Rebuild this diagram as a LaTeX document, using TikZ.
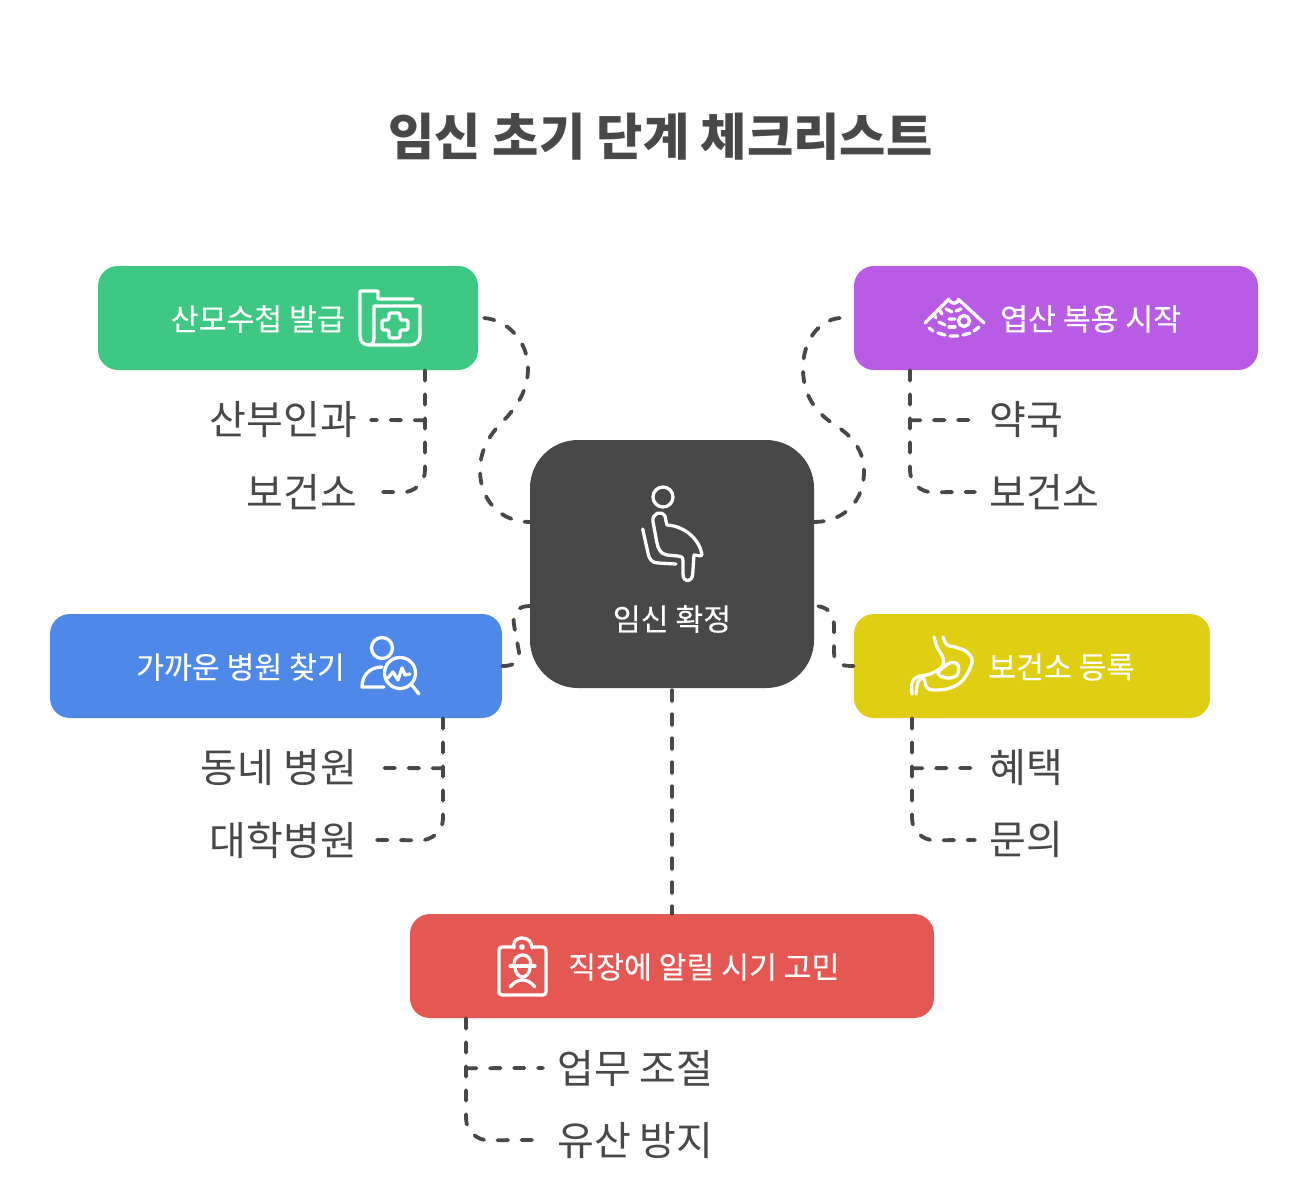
\documentclass[tikz,border=0pt]{standalone}
\usepackage{fontspec}
\setmainfont{Noto Sans CJK KR}
\newfontfamily\medfont[FakeBold=0.25]{Noto Sans CJK KR}
\definecolor{ink}{HTML}{484848}
\definecolor{cgreen}{HTML}{3EC882}
\definecolor{cpurple}{HTML}{B85CE6}
\definecolor{cblue}{HTML}{4E88E8}
\definecolor{cyellow}{HTML}{E0CE12}
\definecolor{cred}{HTML}{E55753}
\tikzset{
  box/.style={rounded corners=20pt,inner sep=0pt,minimum height=104pt},
  boxtext/.style={text=white,font=\medfont\fontsize{30.3}{33}\selectfont,inner sep=0pt},
  item/.style={text=ink,font=\fontsize{40}{43}\selectfont,inner sep=0pt},
  link/.style={draw=ink,line width=3.8pt,dash pattern=on 10.5pt off 13.5pt,line cap=round},
  icon/.style={draw=white,line width=3.3pt,line cap=round,line join=round},
}
\begin{document}
\begin{tikzpicture}[x=1pt,y=-1pt]
\useasboundingbox (0,0) rectangle (1308,1192);
\fill[white] (0,0) rectangle (1308,1192);
\node[text=ink,font=\fontsize{50.3}{54}\selectfont\bfseries,inner sep=0pt] (title) at (660.5,137) {임신 초기 단계 체크리스트};
% boxes
\node[box,fill=ink,rounded corners=48pt,minimum width=284pt,minimum height=248pt] (center) at (672,564) {};
\node[box,fill=cgreen,minimum width=380pt] (green) at (288,318) {};
\node[box,fill=cpurple,minimum width=404pt] (purple) at (1056,318) {};
\node[box,fill=cblue,minimum width=452pt] (blue) at (276,666) {};
\node[box,fill=cyellow,minimum width=356pt] (yellow) at (1032,666) {};
\node[box,fill=cred,minimum width=524pt] (red) at (672,966) {};
% box texts
\node[boxtext] (tcenter) at (672,619) {임신 확정};
\node[boxtext,anchor=east] (tgreen) at (345,319) {산모수첩 발급};
\node[boxtext,anchor=west] (tpurple) at (1000,319) {엽산 복용 시작};
\node[boxtext,anchor=east] (tblue) at (345,667) {가까운 병원 찾기};
\node[boxtext,anchor=west] (tyellow) at (988,667) {보건소 등록};
\node[boxtext,anchor=west] (tred) at (568,967) {직장에 알릴 시기 고민};
% items
\node[item,anchor=east] (a1) at (357,420) {산부인과};
\node[item,anchor=east] (a2) at (357,492) {보건소};
\node[item,anchor=west] (b1) at (989,420) {약국};
\node[item,anchor=west] (b2) at (989,492) {보건소};
\node[item,anchor=east] (c1) at (357,768) {동네 병원};
\node[item,anchor=east] (c2) at (357,840) {대학병원};
\node[item,anchor=west] (d1) at (989,768) {혜택};
\node[item,anchor=west] (d2) at (989,840) {문의};
\node[item,anchor=west] (e1) at (557,1068) {업무 조절};
\node[item,anchor=west] (e2) at (557,1140) {유산 방지};
% anchor coordinates
\coordinate (cwa) at (530,522);
\coordinate (cwb) at (530,606);
\coordinate (cea) at (814,522);
\coordinate (ceb) at (814,606);
% main connectors
\draw[link] ([xshift=6pt]green.east) .. controls +(24,2) and (528,342) .. (528,368)
  .. controls (528,385) and (522,400) .. (507,417)
  .. controls (490,433) and (480,450) .. (480,470)
  .. controls (480,500) and (500,522) .. (cwa);
\draw[link] ([xshift=-14pt]purple.west) .. controls +(-22,2) and (803,342) .. (803,368)
  .. controls (803,395) and (815,412) .. (835,425)
  .. controls (852,436) and (864,450) .. (864,472)
  .. controls (864,500) and (845,522) .. (cea);
\draw[link] (blue.east) .. controls +(10,0) and (520,663) .. (519,652)
  -- (514,625)
  .. controls (512,612) and (518,606) .. (cwb);
\draw[link] (yellow.west) .. controls +(-14,0) and (834,664) .. (834,652)
  -- (834,625)
  .. controls (834,612) and (826,606) .. (ceb);
\draw[link] ([yshift=-2pt]center.south) -- (red.north);
% branches
\draw[link] ([xshift=137pt]green.south) -- ++(0,100) .. controls +(0,14) and +(10,0) .. ++(-22,22) -- ([xshift=23pt]a2.east);
\draw[link] ([xshift=137pt,yshift=-50pt]green.south) -- ([xshift=14pt]a1.east);
\draw[link] ([xshift=-146pt]purple.south) -- ++(0,100) .. controls +(0,14) and +(-10,0) .. ++(22,22) -- ([xshift=-14pt]b2.west);
\draw[link] ([xshift=-146pt,yshift=-50pt]purple.south) -- ([xshift=-17pt]b1.west);
\draw[link] ([xshift=167pt]blue.south) -- ++(0,100) .. controls +(0,14) and +(10,0) .. ++(-22,22) -- ([xshift=16pt]c2.east);
\draw[link] ([xshift=167pt,yshift=-50pt]blue.south) -- ([xshift=26pt]c1.east);
\draw[link] ([xshift=-120pt]yellow.south) -- ++(0,100) .. controls +(0,14) and +(-10,0) .. ++(22,22) -- ([xshift=-14pt]d2.west);
\draw[link] ([xshift=-120pt,yshift=-50pt]yellow.south) -- ([xshift=-16pt]d1.west);
\draw[link] ([xshift=-206pt]red.south) -- ++(0,100) .. controls +(0,14) and +(-10,0) .. ++(22,22) -- ([xshift=-17pt]e2.west);
\draw[link] ([xshift=-206pt,yshift=-50pt]red.south) -- ([xshift=-14pt]e1.west);
% icon: person
\draw[icon] (663,497) circle (10);
\draw[icon] (653,521.7) .. controls (652,513) and (661,510) .. (665,516) .. controls (666,520) and (666,523) .. (667,525)
  .. controls (685,526) and (700,540) .. (702,555) .. controls (702,556) and (700,556) .. (694,555)
  -- (692.7,574) .. controls (692,583) and (683,583) .. (683,574) -- (683,561)
  .. controls (683,557) and (681,556) .. (678,556) -- (667,555)
  .. controls (660,554) and (658,548) .. (656.7,541.7) -- cycle;
\draw[icon] (642.7,529) -- (648,553) .. controls (649,559) and (652,563) .. (658,563) -- (676,564);
% icon: folder
\draw[icon] (413,299) -- (378,299) -- (378,291) -- (360,291) -- (360,336)
  .. controls (360,342) and (364,345) .. (369,345) -- (410,345)
  .. controls (416,345) and (420,341) .. (420,335) -- (420,306) -- (374,306) -- (374,338)
  .. controls (374,342) and (372,345) .. (369,345);
\draw[icon,rounded corners=2pt] (389,313) -- (400,313) -- (400,320) -- (408,320) -- (408,330) -- (400,330) -- (400,338) -- (389,338) -- (389,330) -- (382,330) -- (382,320) -- (389,320) -- cycle;
% icon: ultrasound
\draw[icon] (949,299) -- (925,323);
\draw[icon] (958,299) -- (984,323);
\draw[icon] (950,301) .. controls (952,304) and (956,304) .. (958,301);
\draw[icon] (964,321) circle (5.5);
\draw[icon] (946,309) -- (952,312) (956,311) -- (961,309);
\draw[icon] (939,322) -- (945,325) (949,319) -- (955,319) (939,309) -- (942,314) (934,314) -- (936,318);
\draw[icon] (949,327) -- (955,327);
\draw[icon] (929,328) -- (933,331) (938,333) -- (945,335) (950,336) -- (958,336) (963,335) -- (970,333) (974,331) -- (979,327);
% icon: search person
\draw[icon] (382,648) circle (10.5);
\draw[icon] (384,687) -- (362,687) .. controls (362,675) and (370,667) .. (382,667);
\draw[icon] (400,673) circle (15.5);
\draw[icon] (411,684) -- (419,694);
\draw[icon] (388,678) -- (393,672) -- (398,680) -- (402,668) -- (405,675) -- (410,674);
% icon: stomach
\draw[icon] plot[smooth,tension=0.6] coordinates {(934,637) (937,647) (943,658) (942,667) (930,674) (917,677) (912,683) (912,694)};
\draw[icon] plot[smooth,tension=0.6] coordinates {(943,637) (947,645) (955,647) (967,652) (972,662) (963,680) (950,688) (935,690) (927,688) (925,682) (923,678) (918,682) (916,694)};
\draw[icon] plot[smooth cycle,tension=0.6] coordinates {(938,673) (950,663) (958,665) (957,675) (947,678)};
% icon: clipboard
\draw[icon,rounded corners=3pt] (514,947) -- (499,947) -- (499,995) -- (546,995) -- (546,947) -- (532,947);
\draw[icon] (514,948) .. controls (513,943) and (515,938) .. (522,938) .. controls (529,938) and (532,943) .. (532,948);
\draw[icon] (522,947) circle (1.5);
\draw[icon] (510,966) -- (535,966);
\draw[icon] (514,965) .. controls (514,958) and (518,955) .. (522.5,955) .. controls (527,955) and (531,958) .. (531,965);
\draw[icon] (515,967) .. controls (515,973) and (519,977) .. (522.5,977) .. controls (526,977) and (530,973) .. (530,967);
\draw[icon] (510,987) .. controls (514,982) and (518,980) .. (522.5,980) .. controls (527,980) and (531,982) .. (535,987);
\end{tikzpicture}
\end{document}
